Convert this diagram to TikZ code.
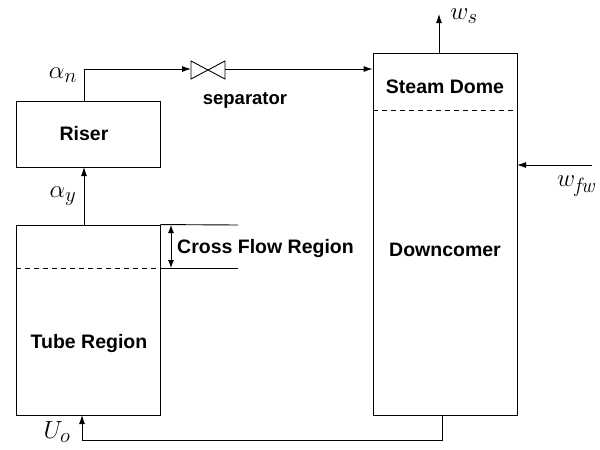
\documentclass[tikz,border=0pt]{standalone}
\usepackage{fontspec}
\setsansfont{Liberation Sans}
\usetikzlibrary{arrows.meta}
\tikzset{
  box/.style={draw, line width=0.9pt, minimum width=144pt, inner sep=0pt},
  lbl/.style={font=\fontsize{19.5}{19.5}\selectfont\sffamily\bfseries, inner sep=0pt},
  mlbl/.style={font=\Huge, inner sep=0pt},
  ln/.style={line width=0.9pt},
  arr/.style={line width=0.9pt, -{Latex[length=9pt,width=6pt]}},
  darr/.style={line width=0.9pt, {Latex[length=8pt,width=6pt]}-{Latex[length=8pt,width=6pt]}},
}
\begin{document}
\begin{tikzpicture}[x=1pt,y=-1pt]
\useasboundingbox (0,0) rectangle (600,450);
% boxes
\node[box, minimum height=66pt] (riser) at (88,134) {};
\node[lbl] (riserT) at (84,134) {Riser};
\node[box, minimum height=190pt] (tube) at (88,320) {};
\node[lbl] (tubeT) at (89,343) {Tube Region};
\node[box, minimum height=362pt] (drum) at (445,234) {};
\node[lbl] (domeT) at (445,87) {Steam Dome};
\node[lbl] (downT) at (445,250) {Downcomer};
% dashed lines
\draw[ln, dashed, dash pattern=on 5pt off 4pt] (16,268) -- (160,268);
\draw[ln, dashed, dash pattern=on 5pt off 4pt] (373,110) -- (517,110);
% cross flow region
\coordinate (cf1) at (238,225);
\coordinate (cf2) at (238,268);
\draw[ln] (tube.north east) -- (cf1);
\draw[ln] (160,268) -- (cf2);
\coordinate (cfa) at (171,225);
\coordinate (cfb) at (171,268);
\draw[darr] (cfa) -- (cfb);
\node[lbl, anchor=west] (cfT) at (177,248) {Cross Flow Region};
% valve
\coordinate (vL) at (191,69);
\coordinate (vR) at (225,69);
\draw[ln] (191,61) -- (225,79) -- (225,61) -- (191,79) -- cycle;
\node[lbl, font=\fontsize{18.5}{18.5}\selectfont\sffamily\bfseries] (sepT) at (245,100) {separator};
% connectors
\coordinate (rtop) at (84,101);
\coordinate (rbot) at (84,167);
\coordinate (ttop) at (84,225);
\draw[arr] (rtop) -- (84,69) -- (vL);
\draw[arr] (vR) -- (drum.north west |- vR);
\draw[arr] (ttop) -- (rbot);
\node[mlbl] (an) at (63,75) {$\alpha_n$};
\node[mlbl] (ay) at (63,196) {$\alpha_y$};
% steam out
\coordinate (wsEnd) at (439,14);
\draw[arr] (439,53) -- (wsEnd);
\node[mlbl] (wsT) at (464,16) {$w_s$};
% feed water
\coordinate (fwStart) at (592,165);
\draw[arr] (fwStart) -- (517,165);
\node[mlbl] (fwT) at (576,186) {$w_{\mathit{fw}}$};
% return
\coordinate (dbot) at (442,415);
\coordinate (tbot) at (82,415);
\draw[arr] (dbot) -- (442,440) -- (82,440) -- (tbot);
\node[mlbl] (uoT) at (57,432) {$U_o$};
\end{tikzpicture}
\end{document}
